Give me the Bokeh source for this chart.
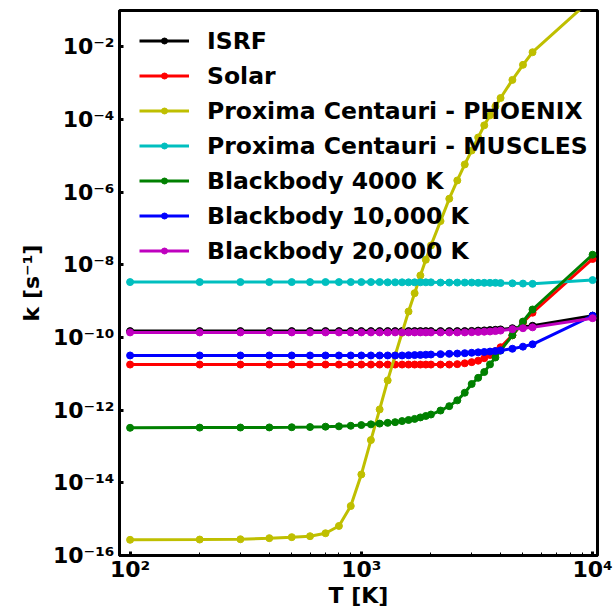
from bokeh.plotting import figure
from bokeh.models import FixedTicker, Legend, LegendItem
from bokeh.embed import file_html
from bokeh.resources import INLINE

# Temperature grid [K]
T = [100, 200, 300, 400, 500, 600, 700, 800, 900, 1000,
     1100, 1200, 1300, 1400, 1500, 1600, 1700, 1800, 1900, 2000,
     2200, 2400, 2600, 2800, 3000, 3200, 3400, 3600, 3800, 4000,
     4500, 5000, 5500, 10000]

isrf = [1.5e-10] * 24 + [1.52e-10, 1.55e-10, 1.57e-10, 1.6e-10, 1.63e-10, 1.67e-10,
                         1.8e-10, 1.95e-10, 2.1e-10, 4.0e-10]

solar = [1.8e-11] * 22 + [1.85e-11, 1.95e-11, 2.1e-11, 2.3e-11, 2.7e-11, 3.3e-11,
                          4.2e-11, 5.4e-11, 1.15e-10, 2.6e-10, 4.8e-10, 1.45e-8]

phoenix = [2.7e-16, 2.75e-16, 2.8e-16, 3.0e-16, 3.2e-16, 3.4e-16, 4.1e-16, 6.5e-16,
           2.3e-15, 1.7e-14, 1.5e-13, 1.05e-12, 6.6e-12, 3.2e-11, 1.35e-10, 5.2e-10,
           1.66e-9, 5.1e-9, 1.38e-8, 3.4e-8, 1.6e-7, 6.6e-7, 2.1e-6, 5.8e-6, 1.4e-5,
           3.2e-5, 6.9e-5, 1.3e-4, 2.3e-4, 3.9e-4, 1.23e-3, 3.2e-3, 7.1e-3, 0.22]

muscles = [3.35e-9] * 12 + [3.3e-9] * 8 + [3.25e-9] * 5 + [3.2e-9] * 4 + \
          [3.15e-9, 3.1e-9, 3.05e-9, 3.0e-9, 3.8e-9]

bb4000 = [3.27e-13, 3.31e-13, 3.33e-13, 3.35e-13, 3.39e-13, 3.43e-13, 3.51e-13, 3.59e-13,
          3.72e-13, 3.89e-13, 4.07e-13, 4.27e-13, 4.47e-13, 4.68e-13, 5.01e-13, 5.37e-13,
          5.75e-13, 6.31e-13, 6.92e-13, 7.59e-13, 9.77e-13, 1.29e-12, 1.86e-12, 3.02e-12,
          5.25e-12, 7.76e-12, 1.12e-11, 1.82e-11, 2.82e-11, 4.37e-11, 1.15e-10, 2.75e-10,
          5.9e-10, 1.9e-8]

bb10000 = [3.2e-11] * 15 + [3.25e-11, 3.28e-11, 3.32e-11, 3.36e-11, 3.4e-11,
                            3.48e-11, 3.55e-11, 3.62e-11, 3.7e-11, 3.8e-11, 3.9e-11,
                            4.0e-11, 4.1e-11, 4.25e-11, 4.4e-11, 4.9e-11, 5.6e-11,
                            6.5e-11, 4.0e-10]

bb20000 = [1.38e-10] * 24 + [1.4e-10, 1.42e-10, 1.44e-10, 1.46e-10, 1.5e-10, 1.55e-10,
                             1.7e-10, 1.8e-10, 1.9e-10, 3.4e-10]

labels = ["ISRF", "Solar", "Proxima Centauri - PHOENIX", "Proxima Centauri - MUSCLES",
          "Blackbody 4000 K", "Blackbody 10,000 K", "Blackbody 20,000 K"]
colors = ["#000000", "#ff0000", "#bfbf00", "#00bfbf", "#008000", "#0000ff", "#bf00bf"]
data = [isrf, solar, phoenix, muscles, bb4000, bb10000, bb20000]

x_major = [100, 1000, 10000]
x_minor = [200, 300, 400, 500, 600, 700, 800, 900,
           2000, 3000, 4000, 5000, 6000, 7000, 8000, 9000]
x_labels = {100: "10²", 1000: "10³", 10000: "10⁴"}
y_major = [1e-16, 1e-14, 1e-12, 1e-10, 1e-8, 1e-6, 1e-4, 1e-2]
y_labels = {1e-16: "10⁻¹⁶", 1e-14: "10⁻¹⁴", 1e-12: "10⁻¹²", 1e-10: "10⁻¹⁰",
            1e-8: "10⁻⁸", 1e-6: "10⁻⁶", 1e-4: "10⁻⁴", 1e-2: "10⁻²"}

p = figure(width=616, height=612, x_axis_type="log", y_axis_type="log",
           x_range=(90, 10500), y_range=(1e-16, 1e-1),
           output_backend="svg", toolbar_location=None,
           min_border_left=119, min_border_right=19, min_border_top=10, min_border_bottom=57)
p.xgrid.visible = False
p.ygrid.visible = False
p.outline_line_color = "black"
p.outline_line_width = 3
p.outline_line_alpha = 1.0
p.background_fill_color = "white"
p.border_fill_color = "white"

items = []
for lab, vals, col in zip(labels, data, colors):
    l = p.line(T, vals, line_color=col, line_width=3)
    s = p.scatter(T, vals, size=7, fill_color=col, line_color=col)
    items.append(LegendItem(label=lab, renderers=[l, s]))

xa = p.xaxis[0]
ya = p.yaxis[0]
xa.ticker = FixedTicker(ticks=x_major, minor_ticks=x_minor)
ya.ticker = FixedTicker(ticks=y_major, minor_ticks=[])
xa.major_label_overrides = x_labels
ya.major_label_overrides = y_labels
for ax in (xa, ya):
    ax.axis_line_width = 3
    ax.axis_line_color = "black"
    ax.major_tick_in = 4
    ax.major_tick_out = 0
    ax.major_tick_line_width = 3
    ax.minor_tick_in = 3
    ax.minor_tick_out = 0
    ax.minor_tick_line_width = 1
    ax.major_label_text_font = "DejaVu Sans"
    ax.major_label_text_font_style = "bold"
    ax.major_label_text_font_size = "22px"
    ax.major_label_text_color = "black"
    ax.axis_label_text_font = "DejaVu Sans"
    ax.axis_label_text_font_style = "bold"
    ax.axis_label_text_font_size = "22px"
    ax.axis_label_text_color = "black"
ya.minor_tick_line_color = None
xa.axis_label = "T [K]"
ya.axis_label = "k [s⁻¹]"
xa.major_label_standoff = 1
xa.axis_label_standoff = -2
ya.major_label_standoff = 5
ya.axis_label_standoff = 6

legend = Legend(items=items, location=(20, 289))
legend.label_text_font = "DejaVu Sans"
legend.label_text_font_style = "bold"
legend.label_text_font_size = "23.5px"
legend.label_text_color = "black"
legend.glyph_width = 50
legend.glyph_height = 15
legend.label_height = 31
legend.label_standoff = 18
legend.spacing = 4
legend.padding = 0
legend.margin = 0
legend.background_fill_alpha = 0
legend.border_line_alpha = 0
p.add_layout(legend)

open("out.html", "w").write(file_html(p, INLINE))
